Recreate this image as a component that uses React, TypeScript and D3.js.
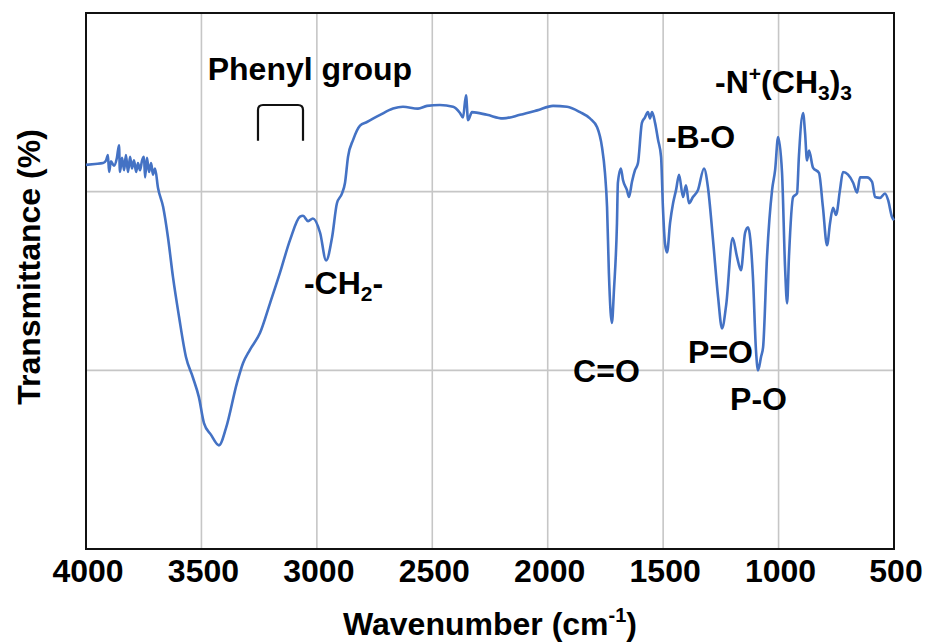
import React, { useEffect, useRef } from 'react';
import * as d3 from 'd3';

// FTIR spectrum (wavenumber in cm-1, transmittance in arbitrary %)
const wavenumbers = [
  4000, 3961, 3926, 3913, 3905, 3900, 3892, 3879, 3866, 3857, 3853, 3844, 3835, 3827, 3818, 3809, 3801, 3792, 3783,
  3775, 3766, 3757, 3749, 3744, 3736, 3727, 3718, 3710, 3701, 3688,
  3666, 3645, 3623, 3597, 3567, 3537, 3511, 3489, 3459, 3424, 3394, 3346, 3320, 3290, 3246, 3203, 3160, 3116,
  3073, 3060, 3038, 3017, 2986, 2960, 2934, 2913, 2891, 2878, 2865, 2843, 2813, 2783, 2726, 2670, 2627, 2562, 2523,
  2467, 2410, 2380, 2367, 2354, 2345, 2328, 2263, 2194, 2120, 2046, 1977, 1916, 1860, 1817, 1786, 1765, 1752, 1743,
  1735, 1722, 1713, 1700, 1696, 1683, 1674, 1657, 1648, 1635, 1622, 1609, 1592, 1579, 1566, 1557, 1548, 1535, 1522,
  1509, 1501, 1492, 1483, 1470, 1457, 1444, 1431, 1414, 1401, 1388, 1371, 1349, 1323, 1306, 1284, 1262, 1245, 1227,
  1199, 1180, 1163, 1145, 1132, 1111, 1098, 1089, 1076, 1067, 1050, 1028, 1015, 1002, 985, 972, 963, 955, 937, 920,
  912, 894, 885, 877, 868, 851, 825, 808, 790, 777, 764, 751, 734, 721, 699, 677, 660, 647, 617, 595, 582, 561, 539,
  526, 509, 500,
];
const transmittance = [
  43.0, 43.1, 43.2, 43.5, 44.1, 42.2, 43.4, 42.9, 43.8, 45.2, 42.2, 43.8, 42.4, 44.1, 42.2, 43.9, 42.6, 43.5, 42.2,
  43.2, 42.4, 43.5, 43.9, 41.6, 43.8, 42.2, 43.2, 41.9, 42.6, 40.4,
  38.3, 34.9, 30.4, 26.0, 21.5, 19.2, 17.0, 14.1, 12.8, 11.6, 13.5, 18.6, 20.8, 22.3, 24.2, 27.5, 30.9, 34.6,
  37.2, 37.3, 36.7, 37.0, 35.4, 32.3, 34.9, 38.7, 39.8, 41.0, 43.9, 45.8, 47.4, 47.8, 48.6, 49.3, 49.5, 49.3, 49.6,
  49.7, 49.5, 48.8, 48.3, 50.8, 48.0, 48.9, 48.6, 48.2, 48.6, 49.1, 49.6, 49.5, 48.9, 48.2, 47.2, 45.0, 42.1, 38.3,
  30.9, 25.3, 29.0, 36.5, 41.0, 42.6, 41.3, 40.2, 39.4, 41.1, 42.4, 43.2, 47.7, 48.3, 48.9, 48.2, 48.9, 47.7, 45.8,
  43.9, 38.3, 34.2, 33.2, 36.5, 38.7, 40.2, 41.9, 39.4, 40.7, 38.7, 39.4, 40.2, 42.6, 40.5, 34.6, 28.2, 24.7, 27.3,
  34.8, 32.7, 31.2, 35.4, 36.0, 30.4, 22.3, 20.0, 21.5, 22.6, 32.7, 40.2, 42.4, 46.1, 42.1, 31.6, 27.5, 32.7, 39.4, 39.8,
  43.9, 48.8, 46.5, 43.5, 44.6, 42.7, 42.1, 38.3, 34.0, 36.5, 38.2, 37.4, 40.2, 42.2, 41.9, 41.0, 39.9, 41.6, 41.6, 41.1, 39.4, 39.3, 39.8,
  39.1, 37.2, 36.8,
];

const xTicks = [4000, 3500, 3000, 2500, 2000, 1500, 1000, 500];
const yTicks = [0, 20, 40, 60];

// band labels, anchored in data coordinates (baseline)
const bandLabels = [
  { wn: 3030, t: 52.5, anchor: 'middle', parts: [{ text: 'Phenyl group' }] },
  { wn: 3056, t: 28.6, anchor: 'start', parts: [{ text: '-CH' }, { text: '2', sub: true }, { text: '-' }] },
  { wn: 1488, t: 44.9, anchor: 'start', parts: [{ text: '-B-O' }] },
  {
    wn: 1275, t: 51.0, anchor: 'start',
    parts: [{ text: '-N' }, { text: '+', sup: true }, { text: '(CH' }, { text: '3', sub: true }, { text: ')' }, { text: '3', sub: true }],
  },
  { wn: 1890, t: 18.7, anchor: 'start', parts: [{ text: 'C=O' }] },
  { wn: 1392, t: 20.8, anchor: 'start', parts: [{ text: 'P=O' }] },
  { wn: 1210, t: 15.6, anchor: 'start', parts: [{ text: 'P-O' }] },
];
const phenylBracket = { from: 3255, to: 3060, top: 49.7, bottom: 45.7 };

const FONT = '"Liberation Sans", Arial, Helvetica, sans-serif';

const App = () => {
  const svgRef = useRef(null);

  useEffect(() => {
    const width = 932;
    const height = 643;
    const margin = { top: 13, right: 38, bottom: 94, left: 86 };

    const svg = d3.select(svgRef.current);
    svg.selectAll('*').remove();
    svg.attr('width', width).attr('height', height).attr('viewBox', [0, 0, width, height]);

    const x = d3.scaleLinear().domain([4000, 500]).range([margin.left, width - margin.right]);
    const y = d3.scaleLinear().domain([0, 60]).range([height - margin.bottom, margin.top]);

    // grid
    svg.append('g')
      .selectAll('line')
      .data(xTicks.slice(1, -1))
      .join('line')
      .attr('stroke', '#c6c6c6')
      .attr('stroke-width', 1.6)
      .attr('x1', d => x(d)).attr('x2', d => x(d))
      .attr('y1', margin.top).attr('y2', height - margin.bottom);

    svg.append('g')
      .selectAll('line')
      .data(yTicks.slice(1, -1))
      .join('line')
      .attr('stroke', '#c6c6c6')
      .attr('stroke-width', 1.6)
      .attr('x1', margin.left).attr('x2', width - margin.right)
      .attr('y1', d => y(d)).attr('y2', d => y(d));

    // frame
    svg.append('rect')
      .attr('x', margin.left)
      .attr('y', margin.top)
      .attr('width', width - margin.left - margin.right)
      .attr('height', height - margin.top - margin.bottom)
      .attr('fill', 'none')
      .attr('stroke', '#111')
      .attr('stroke-width', 2);

    // x tick labels
    svg.append('g')
      .selectAll('text')
      .data(xTicks)
      .join('text')
      .attr('x', d => x(d) + 2)
      .attr('y', 582)
      .attr('text-anchor', 'middle')
      .attr('font-family', FONT)
      .attr('font-weight', 'bold')
      .attr('font-size', 32)
      .text(d => d);

    // axis titles
    const xTitle = svg.append('text')
      .attr('x', (margin.left + width - margin.right) / 2)
      .attr('y', 635)
      .attr('text-anchor', 'middle')
      .attr('font-family', FONT)
      .attr('font-weight', 'bold')
      .attr('font-size', 32);
    xTitle.append('tspan').text('Wavenumber (cm');
    xTitle.append('tspan').attr('font-size', 20).attr('dy', -13).text('-1');
    xTitle.append('tspan').attr('dy', 13).text(')');

    svg.append('text')
      .attr('transform', 'rotate(-90)')
      .attr('x', -267)
      .attr('y', 40)
      .attr('text-anchor', 'middle')
      .attr('font-family', FONT)
      .attr('font-weight', 'bold')
      .attr('font-size', 32)
      .text('Transmittance (%)');

    // spectrum
    const data = wavenumbers.map((w, i) => ({ w, t: transmittance[i] }));
    const line = d3.line()
      .x(d => x(d.w))
      .y(d => y(d.t))
      .curve(d3.curveMonotoneX);

    svg.append('path')
      .datum(data)
      .attr('fill', 'none')
      .attr('stroke', '#4472C4')
      .attr('stroke-width', 2.6)
      .attr('stroke-linejoin', 'round')
      .attr('d', line);

    // phenyl bracket
    const bx0 = x(phenylBracket.from);
    const bx1 = x(phenylBracket.to);
    const by0 = y(phenylBracket.top);
    const by1 = y(phenylBracket.bottom);
    svg.append('path')
      .attr('fill', 'none')
      .attr('stroke', '#111')
      .attr('stroke-width', 2.2)
      .attr('d', `M${bx0},${by1} L${bx0},${by0 + 5} Q${bx0},${by0} ${bx0 + 5},${by0} L${bx1 - 5},${by0} Q${bx1},${by0} ${bx1},${by0 + 5} L${bx1},${by1}`);

    // band labels
    bandLabels.forEach(lab => {
      const txt = svg.append('text')
        .attr('x', x(lab.wn))
        .attr('y', y(lab.t))
        .attr('text-anchor', lab.anchor)
        .attr('font-family', FONT)
        .attr('font-weight', 'bold')
        .attr('font-size', 32);
      let shift = 0;
      lab.parts.forEach(p => {
        const target = p.sub ? 7 : p.sup ? -12 : 0;
        const ts = txt.append('tspan')
          .attr('dy', target - shift)
          .text(p.text);
        if (p.sub || p.sup) ts.attr('font-size', 21);
        shift = target;
      });
    });
  }, []);

  return (
    <svg ref={svgRef} style={{ position: 'absolute', left: 0, top: 0, background: '#fff' }}></svg>
  );
};

export default App;
